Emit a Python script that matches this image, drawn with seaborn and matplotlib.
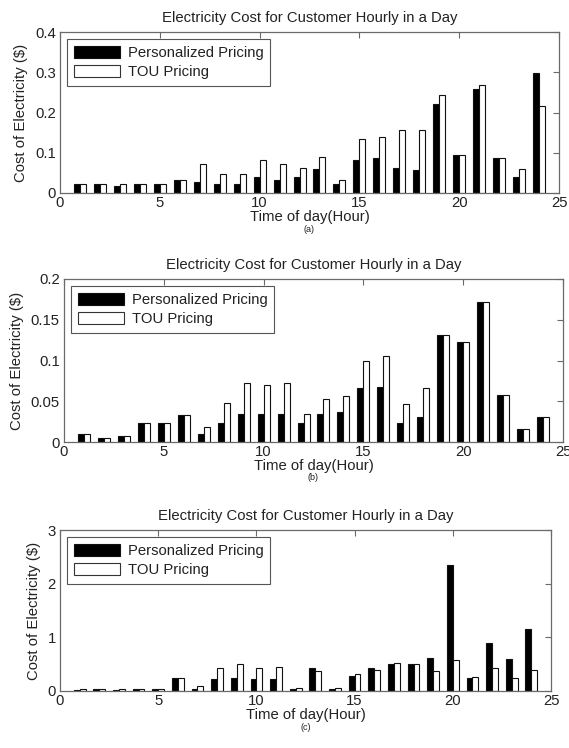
import numpy as np
import pandas as pd
import matplotlib
matplotlib.use("Agg")
import matplotlib.pyplot as plt
from matplotlib.patches import Patch
import seaborn as sns

# ---------------- data ----------------
hours = list(range(1, 25))
series_names = ["Personalized Pricing", "TOU Pricing"]

a_personal = [0.022, 0.022, 0.018, 0.022, 0.022, 0.032, 0.027, 0.022, 0.022, 0.040, 0.032, 0.040,
              0.059, 0.022, 0.081, 0.088, 0.061, 0.056, 0.222, 0.094, 0.258, 0.088, 0.040, 0.297]
a_tou = [0.022, 0.022, 0.022, 0.022, 0.022, 0.032, 0.071, 0.048, 0.048, 0.081, 0.071, 0.061,
         0.090, 0.032, 0.133, 0.139, 0.157, 0.157, 0.243, 0.094, 0.268, 0.088, 0.059, 0.217]

b_personal = [0.010, 0.005, 0.0075, 0.0235, 0.0235, 0.0335, 0.0095, 0.0235, 0.034, 0.034, 0.034, 0.023,
              0.034, 0.037, 0.066, 0.068, 0.023, 0.031, 0.131, 0.123, 0.172, 0.058, 0.016, 0.031]
b_tou = [0.010, 0.005, 0.0075, 0.0235, 0.0235, 0.0335, 0.019, 0.0475, 0.072, 0.070, 0.072, 0.034,
         0.0525, 0.0565, 0.100, 0.105, 0.047, 0.0665, 0.131, 0.123, 0.172, 0.058, 0.016, 0.031]

c_personal = [0.025, 0.037, 0.025, 0.037, 0.037, 0.24, 0.037, 0.217, 0.24, 0.217, 0.217, 0.037,
              0.43, 0.037, 0.285, 0.43, 0.50, 0.51, 0.615, 2.34, 0.236, 0.89, 0.60, 1.155]
c_tou = [0.03, 0.037, 0.03, 0.037, 0.03, 0.24, 0.093, 0.43, 0.50, 0.43, 0.45, 0.062,
         0.37, 0.062, 0.32, 0.39, 0.515, 0.50, 0.37, 0.58, 0.255, 0.43, 0.24, 0.39]

x_ticks = [0, 5, 10, 15, 20, 25]
x_ticklabels = ["0", "5", "10", "15", "20", "25"]
a_yticks = [0, 0.1, 0.2, 0.3, 0.4]
a_yticklabels = ["0", "0.1", "0.2", "0.3", "0.4"]
b_yticks = [0, 0.05, 0.1, 0.15, 0.2]
b_yticklabels = ["0", "0.05", "0.1", "0.15", "0.2"]
c_yticks = [0, 1, 2, 3]
c_yticklabels = ["0", "1", "2", "3"]

title = "Electricity Cost for Customer Hourly in a Day"
xlabel = "Time of day(Hour)"
ylabel = r"Cost of Electricity (\$)"
captions = ["(a)", "(b)", "(c)"]

# ---------------- style ----------------
sns.set_style("white")
plt.rcParams["font.family"] = ["Liberation Sans", "DejaVu Sans"]
FS = 10.7
plt.rcParams["font.size"] = FS

fig = plt.figure(figsize=(5.69, 7.48), dpi=100)
W, H = 569.0, 748.0

# axes boxes in pixels: (left, top, right, bottom)
boxes = [(60, 32, 559, 193), (64, 279, 563, 442), (60, 530, 551, 691)]
caption_y = [229, 478, 728]
panels = [(a_personal, a_tou, a_yticks, a_yticklabels),
          (b_personal, b_tou, b_yticks, b_yticklabels),
          (c_personal, c_tou, c_yticks, c_yticklabels)]

spine_col = "#6a6a6a"
text_col = "#222222"

for i, ((l, t, r, b), (pers, tou, yt, ytl)) in enumerate(zip(boxes, panels)):
    ax = fig.add_axes([l / W, (H - b) / H, (r - l) / W, (b - t) / H])
    df = pd.DataFrame({
        "hour": hours * 2,
        "cost": pers + tou,
        "pricing": [series_names[0]] * len(hours) + [series_names[1]] * len(hours),
    })
    sns.barplot(data=df, x="hour", y="cost", hue="pricing", hue_order=series_names,
                palette=["black", "white"], native_scale=True, width=0.6, gap=0,
                dodge=True, errorbar=None, edgecolor="#111111", linewidth=0.8,
                legend=False, ax=ax)
    ax.set_xlim(0, 25)
    ax.set_ylim(yt[0], yt[-1])
    ax.set_xticks(x_ticks)
    ax.set_xticklabels(x_ticklabels)
    ax.set_yticks(yt)
    ax.set_yticklabels(ytl)
    ax.tick_params(direction="in", length=4, width=0.8, color=spine_col,
                   top=True, right=True, labelsize=FS, labelcolor=text_col, pad=3)
    ax.tick_params(axis="x", pad=2)
    for s in ax.spines.values():
        s.set_visible(True)
        s.set_color(spine_col)
        s.set_linewidth(0.9)
    ax.set_title(title, fontsize=FS, color=text_col, pad=7)
    ax.set_xlabel(xlabel, fontsize=FS, color=text_col, labelpad=0)
    ax.set_ylabel(ylabel, fontsize=FS, color=text_col, labelpad=5)
    handles = [Patch(facecolor="black", edgecolor="#111111", linewidth=0.8),
               Patch(facecolor="white", edgecolor="#333333", linewidth=0.8)]
    leg = ax.legend(handles, series_names, loc="upper left", fontsize=FS,
                    frameon=True, fancybox=False, framealpha=1, edgecolor="#555555",
                    handlelength=3.1, handleheight=0.9, handletextpad=0.5,
                    borderaxespad=0.5, borderpad=0.45, labelspacing=0.3)
    leg.get_frame().set_linewidth(0.8)
    for txt in leg.get_texts():
        txt.set_color(text_col)
    # sub-caption
    cx = (l + r) / 2.0 / W
    fig.text(cx, (H - caption_y[i]) / H, captions[i], ha="center", va="center",
             fontsize=6.5, color=text_col)

fig.savefig("out.png", dpi=100)
